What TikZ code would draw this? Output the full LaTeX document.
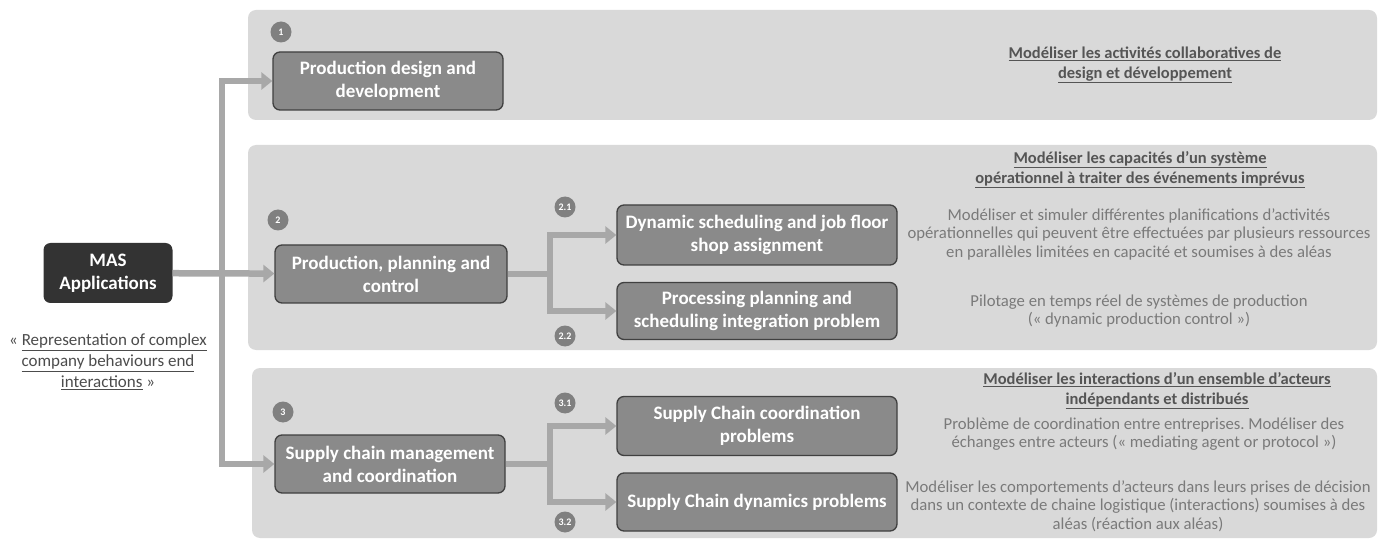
\documentclass[tikz,border=0pt]{standalone}
\usepackage{fontspec}
\setmainfont{Carlito}
\usetikzlibrary{arrows.meta}
\frenchspacing
\definecolor{panelgray}{HTML}{D9D9D9}
\definecolor{boxgray}{HTML}{8A8A8A}
\definecolor{linegray}{HTML}{A8A8A8}
\definecolor{numgray}{HTML}{808080}
\definecolor{titlegray}{HTML}{555555}
\definecolor{descgray}{HTML}{7A7A7A}
\tikzset{
  panel/.style={fill=panelgray, rounded corners=8pt},
  task/.style={draw=black!75, line width=1.3pt, fill=boxgray, rounded corners=7pt,
    text=white, font=\fontsize{19}{23}\selectfont\bfseries, align=center,
    minimum width=230pt, minimum height=58pt, inner sep=2pt},
  subtask/.style={task, minimum width=280pt},
  num/.style={circle, fill=numgray, text=white, minimum size=21pt, inner sep=0pt,
    font=\fontsize{10}{11}\selectfont\bfseries},
  link/.style={draw=linegray, line width=6.5pt},
  flow/.style={link, -{Triangle[width=17pt,length=11pt]}},
  title/.style={text=titlegray, font=\fontsize{16.5}{20}\selectfont\bfseries, align=center},
  desc/.style={text=descgray, font=\fontsize{16.7}{18.5}\selectfont, align=center}
}
\begin{document}
\begin{tikzpicture}[x=1pt, y=-1pt]
\useasboundingbox (0,0) rectangle (1385,540);
% panels
\fill[panel] (248,10) rectangle (1377,120);
\fill[panel] (248,145) rectangle (1377,350);
\fill[panel] (252,368) rectangle (1377,538);

% root
\node[fill=black!80, rounded corners=7pt, text=white, font=\fontsize{19}{23}\selectfont\bfseries,
  align=center, minimum width=129pt, minimum height=60pt] (mas) at (108,273) {MAS\\Applications};
\node[text=black!70, font=\fontsize{17}{21}\selectfont, align=center] (scope) at (108,362)
  {« \underline{Representation of complex}\\ \underline{company behaviours end}\\ \underline{interactions} »};

% level 1
\node[task] (pd) at (388,81) {Production design and\\development};
\node[task, minimum width=232pt] (ppc) at (391,274) {Production, planning and\\control};
\node[task] (scm) at (390,464) {Supply chain management\\and coordination};
\node[num] (n1) at (281,32) {1};
\node[num] (n2) at (278,220) {2};
\node[num] (n3) at (283,412) {3};

% level 2
\node[subtask, minimum height=60pt] (dyn) at (757,235) {Dynamic scheduling and job floor\\shop assignment};
\node[subtask, minimum height=57pt] (proc) at (757,311) {Processing planning and\\scheduling integration problem};
\node[subtask, minimum height=59pt] (scc) at (757,426) {Supply Chain coordination\\problems};
\node[subtask, minimum height=58pt] (scd) at (757,502) {Supply Chain dynamics problems};
\node[num] (n21) at (565,207) {2.1};
\node[num] (n22) at (565,336) {2.2};
\node[num] (n31) at (565,403) {3.1};
\node[num] (n32) at (565,522) {3.2};

% connectors
\coordinate (j0) at (222,273);
\coordinate (j2) at (550,274);
\coordinate (j3) at (550,464);
\draw[flow] (mas) -- (ppc);
\draw[flow] (j0) |- (pd);
\draw[flow] (j0) |- (scm);
\draw[link] (ppc) -- (j2);
\draw[flow] (j2) |- (dyn);
\draw[flow] (j2) |- (proc);
\draw[link] (scm) -- (j3);
\draw[flow] (j3) |- (scc);
\draw[flow] (j3) |- (scd);

% texts
\node[title] (t1) at (1145,65) {\underline{Modéliser les activités collaboratives de}\\\underline{design et développement}};
\node[title] (t2) at (1140,170) {\underline{Modéliser les capacités d’un système}\\\underline{opérationnel à traiter des événements imprévus}};
\node[desc] (d21) at (1139,234) {Modéliser et simuler différentes planifications d’activités\\opérationnelles qui peuvent être effectuées par plusieurs ressources\\en parallèles limitées en capacité et soumises à des aléas};
\node[desc] (d22) at (1139,311) {Pilotage en temps réel de systèmes de production\\(« dynamic production control »)};
\node[title] (t3) at (1157,391) {\underline{Modéliser les interactions d’un ensemble d’acteurs}\\\underline{indépendants et distribués}};
\node[desc] (d31) at (1144,434) {Problème de coordination entre entreprises. Modéliser des\\échanges entre acteurs (« mediating agent or protocol »)};
\node[desc] (d32) at (1138,506) {Modéliser les comportements d’acteurs dans leurs prises de décision\\dans un contexte de chaine logistique (interactions) soumises à des\\aléas (réaction aux aléas)};
\end{tikzpicture}
\end{document}
